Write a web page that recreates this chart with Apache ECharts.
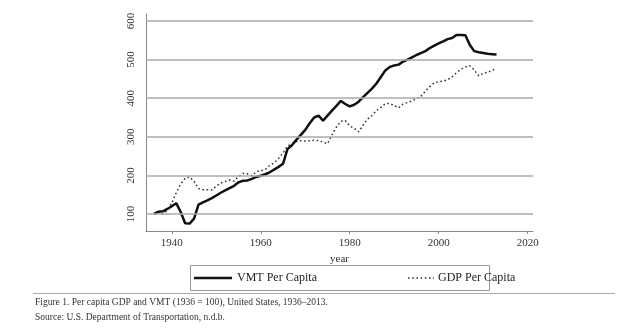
<!DOCTYPE html>
<html><head><meta charset="utf-8">
<script src="https://cdn.jsdelivr.net/npm/echarts@6/dist/echarts.min.js"></script>
<style>html,body{margin:0;padding:0;background:#fff}#c{width:620px;height:329px}</style>
</head><body><div id="c"></div>
<script>
const years = [];
for (let y = 1936; y <= 2013; y++) years.push(y);
const vmt = [100,106,107,113,120,128,105,76,75,88,124,130,135,141,148,155,161,167,173,182,186,187,191,196,199,203,208,215,222,230,268,278,292,305,318,335,350,355,342,355,368,380,393,385,379,383,391,403,414,425,438,455,472,481,485,487,495,500,506,512,517,522,530,536,542,547,553,556,564,564,563,538,522,519,517,515,514,513];
const gdp = [100,105,100,110,128,155,178,192,196,185,166,163,163,162,172,180,184,188,185,197,205,204,199,210,212,215,226,232,244,258,276,282,288,290,289,290,291,290,286,282,305,325,340,342,328,322,313,330,346,355,368,376,386,386,381,375,385,389,393,399,405,418,430,440,443,444,448,455,466,475,481,484,473,458,465,467,472,478];
const yTicks = [100,200,300,400,500,600];
const xTicks = [1940,1960,1980,2000,2020];
const seriesNames = ['VMT Per Capita','GDP Per Capita'];
const caption1 = 'Figure 1. Per capita GDP and VMT (1936 = 100), United States, 1936\u20132013.';
const caption2 = 'Source: U.S. Department of Transportation, n.d.b.';

const serif = '"Liberation Serif", "DejaVu Serif", serif';
const dotDash = [1.6, 2.6];
const chart = echarts.init(document.getElementById('c'), null, {renderer:'canvas'});
chart.setOption({
  animation:false,
  backgroundColor:'#fff',
  grid:{left:146, right:87, top:14, bottom:98},
  xAxis:{type:'value', min:1934.2, max:2021.2,
    name:'year', nameLocation:'middle', nameGap:19,
    nameTextStyle:{fontFamily:serif, fontSize:11, color:'#333'},
    axisLine:{show:true, lineStyle:{color:'#888', width:1}},
    axisTick:{show:true, length:3, customValues:xTicks, lineStyle:{color:'#888'}},
    axisLabel:{customValues:xTicks, formatter:v=>String(Math.round(v)), fontFamily:serif, fontSize:11, color:'#333', margin:7},
    splitLine:{show:false}},
  yAxis:{type:'value', min:55.9, max:618.2,
    axisLine:{show:true, lineStyle:{color:'#888', width:1}},
    axisTick:{show:false},
    axisLabel:{customValues:yTicks, formatter:v=>String(Math.round(v)), rotate:90, fontFamily:serif, fontSize:11, color:'#333', margin:9},
    splitLine:{show:false}},
  graphic:[
    {type:'rect', shape:{x:190.5, y:265.5, width:299, height:25}, style:{fill:'none', stroke:'#999', lineWidth:1}},
    {type:'line', shape:{x1:194, y1:278, x2:232, y2:278}, style:{stroke:'#111', lineWidth:2.5}},
    {type:'text', x:237, y:278, style:{text:seriesNames[0], font:'12px '+serif, fill:'#222', verticalAlign:'middle'}},
    {type:'line', shape:{x1:408, y1:278, x2:434, y2:278}, style:{stroke:'#333', lineWidth:1.5, lineDash:dotDash}},
    {type:'text', x:438, y:278, style:{text:seriesNames[1], font:'12px '+serif, fill:'#222', verticalAlign:'middle'}},
    {type:'line', shape:{x1:33, y1:293.5, x2:615, y2:293.5}, style:{stroke:'#aaa', lineWidth:1}},
    {type:'text', left:35, top:297, style:{text:caption1, font:'9.5px '+serif, fill:'#333'}},
    {type:'text', left:35, top:312, style:{text:caption2, font:'9.5px '+serif, fill:'#333'}}
  ],
  series:[
    {name:'grid', type:'line', data:[[1936,100]], symbol:'none', lineStyle:{opacity:0}, silent:true, z:1,
     markLine:{silent:true, symbol:'none', label:{show:false}, lineStyle:{color:'#aaa', width:1.5, type:'solid'},
       data: yTicks.map(v=>({yAxis:v}))}},
    {name:seriesNames[0], type:'line', data:years.map((y,i)=>[y,vmt[i]]), symbol:'none', z:3,
     lineStyle:{color:'#111', width:2.5}, itemStyle:{color:'#111'}},
    {name:seriesNames[1], type:'line', data:years.map((y,i)=>[y,gdp[i]]), symbol:'none', z:2,
     lineStyle:{color:'#333', width:1.5, type:dotDash}, itemStyle:{color:'#333'}}
  ]
});
</script></body></html>
